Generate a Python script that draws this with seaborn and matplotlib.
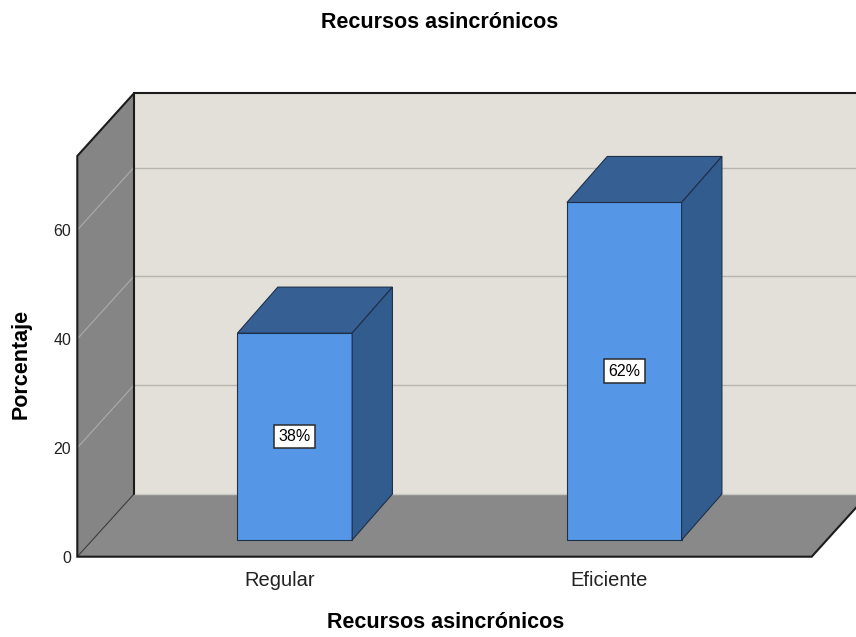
import matplotlib
matplotlib.use("Agg")
import matplotlib.pyplot as plt
import seaborn as sns
import pandas as pd
from matplotlib.patches import Polygon

# Chart data
categories = ["Regular", "Eficiente"]
percentages = [38, 62]
y_ticks = [0, 20, 40, 60]
title_text = "Recursos asincrónicos"
x_label = "Recursos asincrónicos"
y_label = "Porcentaje"

sns.set_theme(style="white")
plt.rcParams["font.family"] = ["Liberation Sans", "DejaVu Sans"]

W, H = 856, 637
fig = plt.figure(figsize=(W / 100, H / 100), dpi=100)
fig.patch.set_facecolor("white")

# Front plane of the 3D box (pixel frame of the axes)
left_px, right_px, bottom_px, top_px = 77.3, 811.7, 556.7, 156.0
ax = fig.add_axes([left_px / W, 1 - bottom_px / H,
                   (right_px - left_px) / W, (bottom_px - top_px) / H])
y_max = 73.6
x_lo, x_hi = -0.6146, 1.6143

df = pd.DataFrame({"cat": categories, "pct": percentages})
sns.barplot(data=df, x="cat", y="pct", order=categories, width=0.348,
            color="#5596E6", saturation=1, edgecolor="#1E3048",
            linewidth=0.8, ax=ax, zorder=5)
ax.set_xlim(x_lo, x_hi)
ax.set_ylim(0, y_max)
ax.patch.set_visible(False)
for s in ax.spines.values():
    s.set_visible(False)
ax.set_xlabel("")
ax.set_ylabel("")

# pixel -> data conversion (dy positive upwards)
ppx = (right_px - left_px) / (x_hi - x_lo)
ppy = (bottom_px - top_px) / y_max


def shift(dx_px, dy_px):
    return dx_px / ppx, dy_px / ppy


Dx, Dy = shift(56.5, 62.5)      # depth of the box
fdx, fdy = shift(15.0, 16.7)    # bar front plane
bdx, bdy = shift(40.3, 46.0)    # bar depth
far = x_hi + Dx + 1.0

dark = "#1c1c1c"
# back wall
ax.add_patch(Polygon([(x_lo + Dx, Dy), (far, Dy), (far, y_max + Dy), (x_lo + Dx, y_max + Dy)],
                     closed=True, facecolor="#E3E0D9", edgecolor="none", zorder=0.5, clip_on=False))
# left wall
ax.add_patch(Polygon([(x_lo, 0), (x_lo + Dx, Dy), (x_lo + Dx, y_max + Dy), (x_lo, y_max)],
                     closed=True, facecolor="#858585", edgecolor="none", zorder=1, clip_on=False))
# floor
ax.add_patch(Polygon([(x_lo, 0), (x_hi, 0), (x_hi + Dx, Dy), (x_lo + Dx, Dy)],
                     closed=True, facecolor="#898989", edgecolor="none", zorder=1, clip_on=False))

# grid lines on back and left walls
for v in y_ticks[1:]:
    ax.plot([x_lo + Dx, far], [v + Dy, v + Dy], color="#B7B5AF", lw=1.0, zorder=2, clip_on=False)
    ax.plot([x_lo, x_lo + Dx], [v, v + Dy], color="#A8A8A8", lw=0.9, zorder=2, clip_on=False)
# back wall bottom edge
ax.plot([x_lo + Dx, far], [Dy, Dy], color="#C9C7C2", lw=1.0, zorder=2, clip_on=False)
# corner between floor and left wall
ax.plot([x_lo, x_lo + Dx], [0, Dy], color="#3a3a3a", lw=0.8, zorder=2, clip_on=False)

# box outlines
ax.plot([x_lo + Dx, far], [y_max + Dy, y_max + Dy], color=dark, lw=1.5, zorder=3, clip_on=False)
ax.plot([x_lo + Dx, x_lo + Dx], [Dy, y_max + Dy], color=dark, lw=1.5, zorder=3, clip_on=False)
ax.plot([x_lo + Dx, x_lo, x_lo, x_hi, x_hi + Dx],
        [y_max + Dy, y_max, 0, 0, Dy], color=dark, lw=1.5, zorder=3, clip_on=False,
        solid_joinstyle="miter")

# 3D bars: move the front faces and add top and side faces
top_col = "#366094"
side_col = "#325B8E"
edge_col = "#1E3048"
for p, val in zip(ax.patches[:len(percentages)], percentages):
    x0 = p.get_x() + fdx
    w = p.get_width()
    h = p.get_height()
    p.set_x(x0)
    p.set_y(fdy)
    p.set_clip_on(False)
    ax.add_patch(Polygon([(x0, fdy + h), (x0 + w, fdy + h), (x0 + w + bdx, fdy + h + bdy),
                          (x0 + bdx, fdy + h + bdy)], closed=True, facecolor=top_col,
                         edgecolor=edge_col, lw=0.8, zorder=5, clip_on=False))
    ax.add_patch(Polygon([(x0 + w, fdy), (x0 + w + bdx, fdy + bdy), (x0 + w + bdx, fdy + bdy + h),
                          (x0 + w, fdy + h)], closed=True, facecolor=side_col,
                         edgecolor=edge_col, lw=0.8, zorder=5, clip_on=False))
    ax.text(x0 + w / 2, fdy + h / 2, f"{val}%", ha="center", va="center", fontsize=11.5,
            color="black", zorder=10,
            bbox=dict(boxstyle="square,pad=0.27", facecolor="white", edgecolor="#2a2a2a", lw=1.1))

ax.set_yticks(y_ticks)
ax.set_yticklabels([str(t) for t in y_ticks])
ax.tick_params(axis="y", length=0, pad=4.5, labelsize=11.5, labelcolor="#222222")
ax.tick_params(axis="x", length=0, pad=10, labelsize=14.5, labelcolor="#222222")

fig.text(439.5 / W, 1 - 22 / H, title_text, ha="center", va="center",
         fontsize=15.5, fontweight="bold", color="black")
fig.text(446 / W, 1 - 623 / H, x_label, ha="center", va="center",
         fontsize=15.5, fontweight="bold", color="black")
fig.text(21 / W, 1 - 364 / H, y_label, ha="center", va="center", rotation=90,
         fontsize=15.5, fontweight="bold", color="black")

fig.savefig("out.png", dpi=100, facecolor="white")
